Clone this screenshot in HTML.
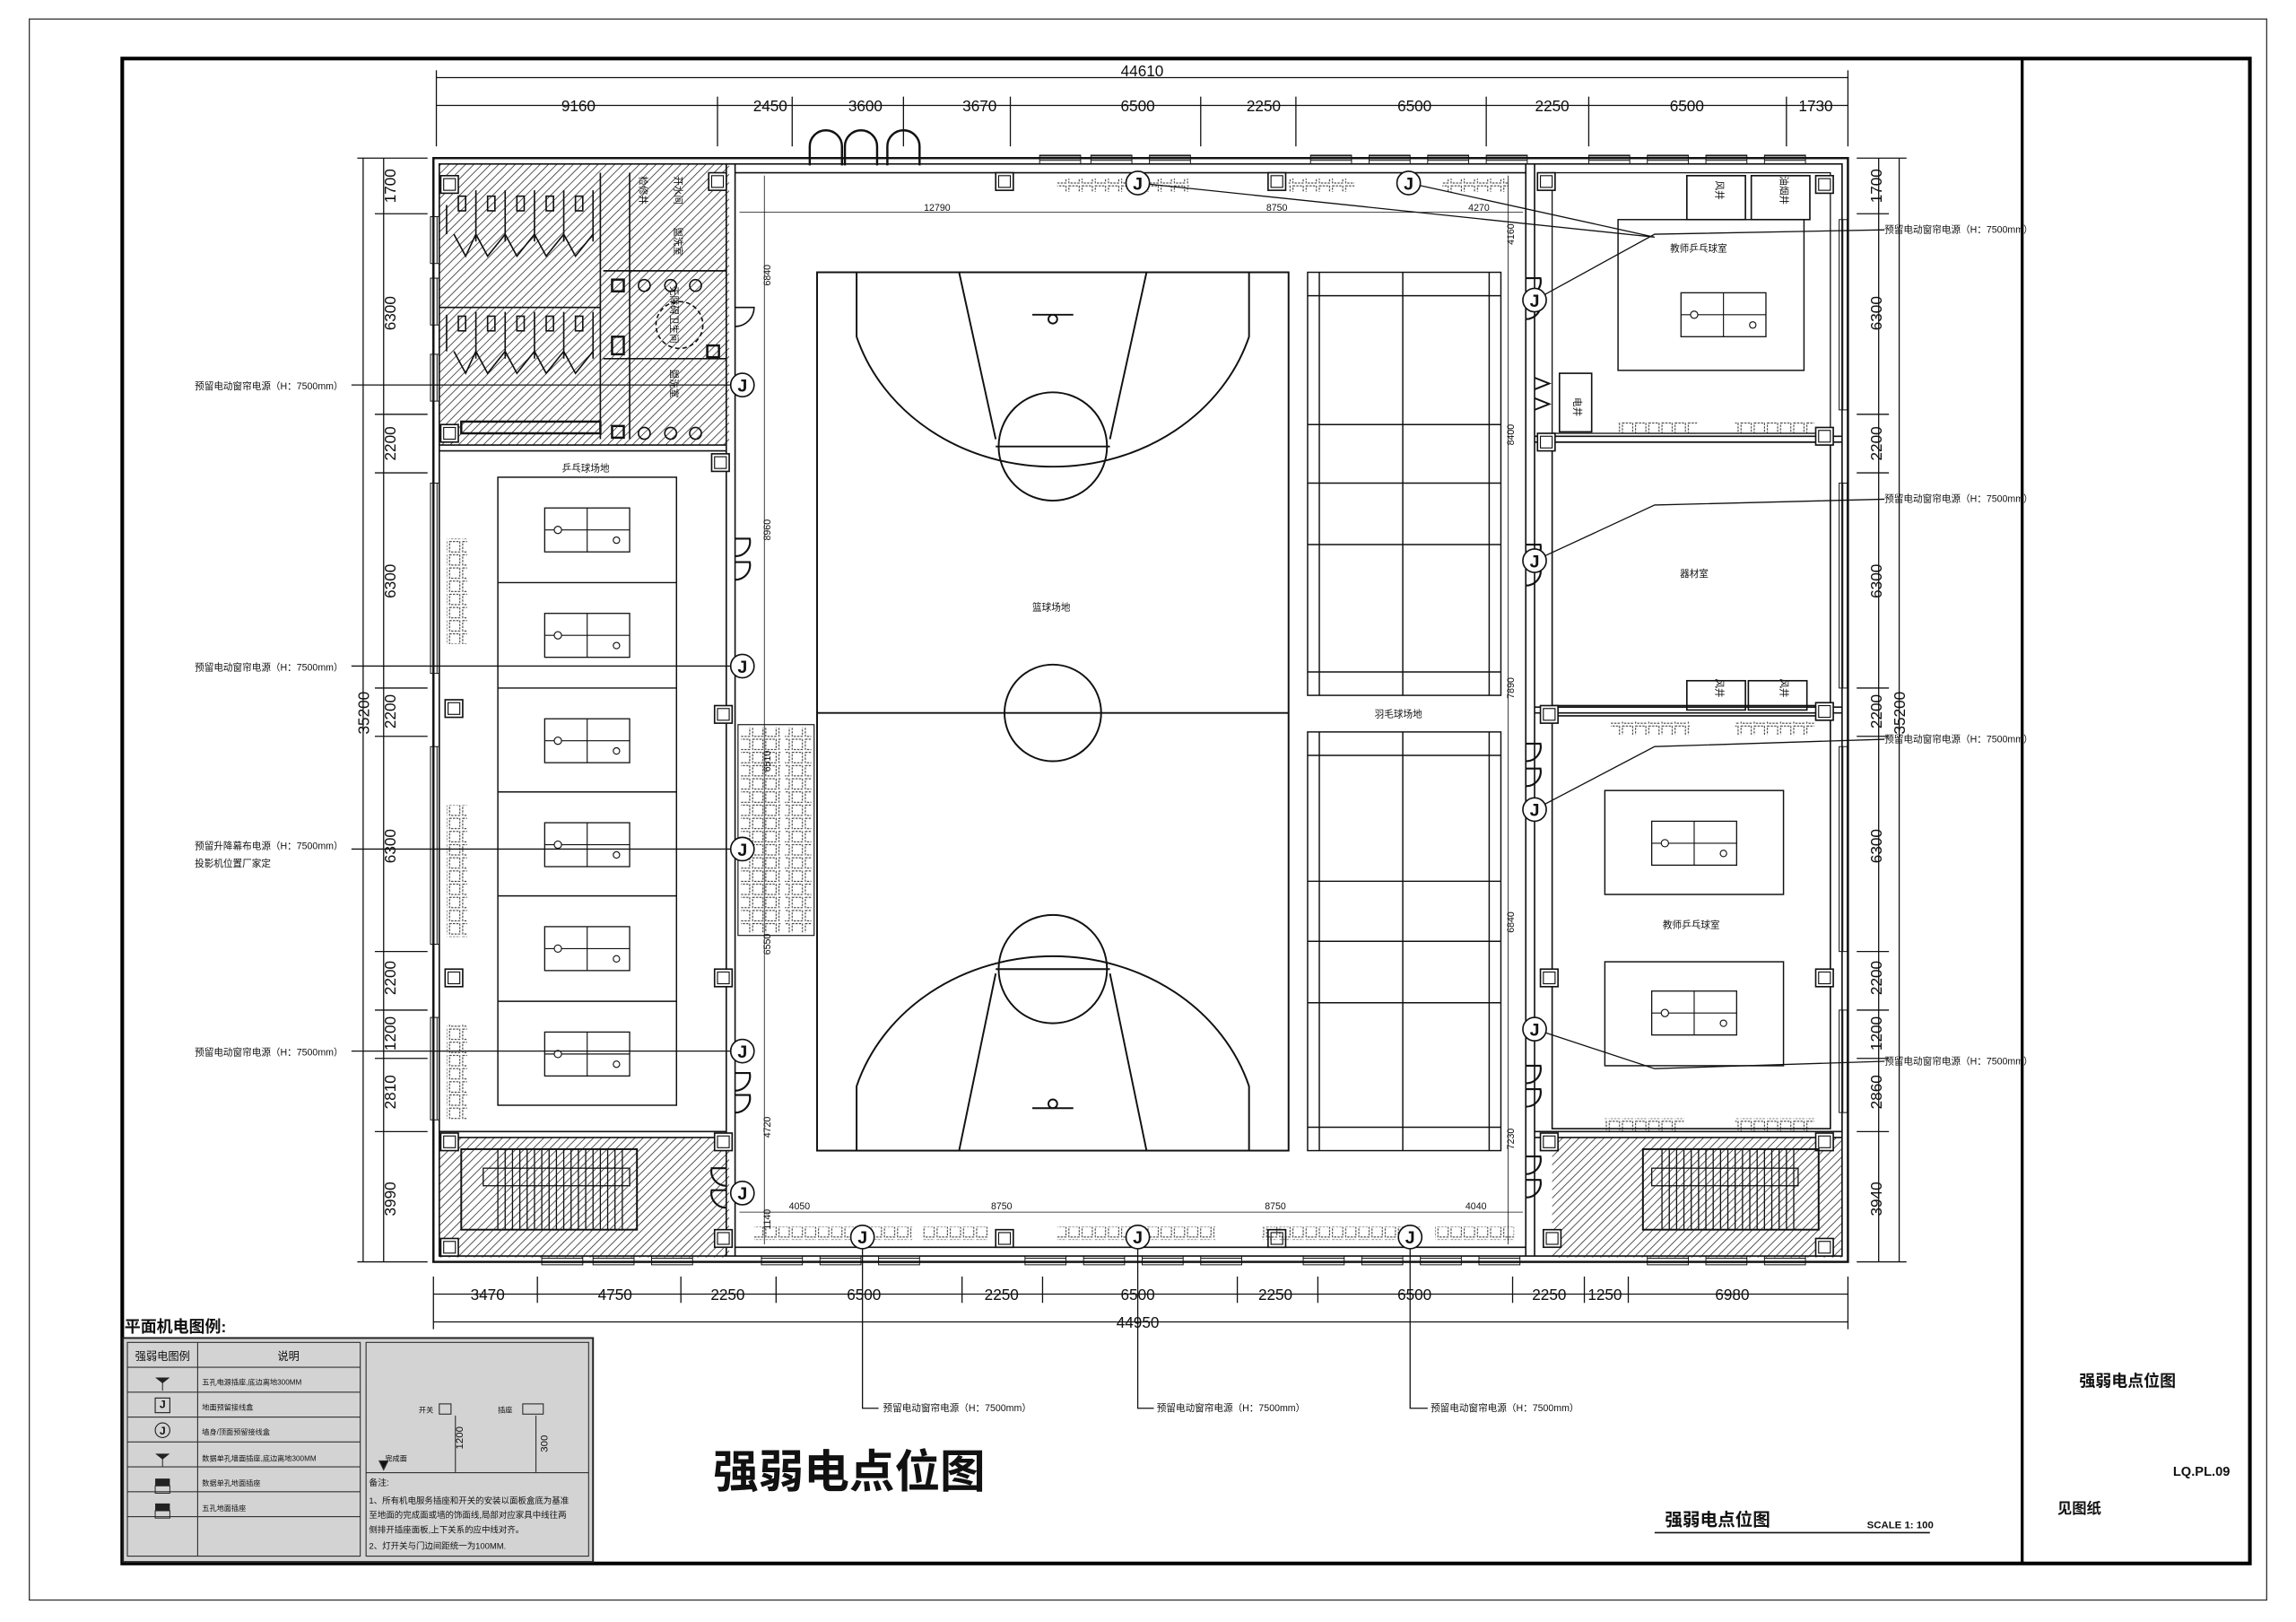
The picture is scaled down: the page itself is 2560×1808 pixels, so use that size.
<!DOCTYPE html>
<html><head><meta charset="utf-8"><style>
html,body{margin:0;padding:0;background:#fff}
svg{display:block}
text{font-family:"Liberation Sans","Noto Sans CJK SC",sans-serif;fill:#111}
</style></head><body>
<svg width="2560" height="1808" viewBox="0 0 1568 1108" preserveAspectRatio="none" xmlns="http://www.w3.org/2000/svg">
<defs>
<pattern id="h" width="4" height="4" patternUnits="userSpaceOnUse" patternTransform="rotate(45)"><line x1="0" y1="0" x2="0" y2="4" stroke="#333" stroke-width="1"/></pattern>
<pattern id="ch" width="9" height="9" patternUnits="userSpaceOnUse"><rect x="1" y="1" width="7" height="7" fill="none" stroke="#222" stroke-width="0.6" stroke-dasharray="1.5,0.8"/></pattern>
<pattern id="win" width="3" height="3" patternUnits="userSpaceOnUse"><line x1="0" y1="1.5" x2="3" y2="1.5" stroke="#222" stroke-width="0.7"/></pattern>
<pattern id="winv" width="3" height="3" patternUnits="userSpaceOnUse"><line x1="1.5" y1="0" x2="1.5" y2="3" stroke="#222" stroke-width="0.7"/></pattern>
<g id="tt"><rect x="-29" y="-15" width="58" height="30" fill="none" stroke="#111" stroke-width="0.8"/><line x1="0" y1="-15" x2="0" y2="15" stroke="#111" stroke-width="0.7"/><line x1="-29" y1="0" x2="29" y2="0" stroke="#111" stroke-width="0.7"/><circle cx="-20" cy="0" r="2.5" fill="#fff" stroke="#111" stroke-width="0.7"/><circle cx="20" cy="7" r="2.2" fill="none" stroke="#111" stroke-width="0.7"/></g>
<g id="J"><circle r="8" fill="#fff" stroke="#111" stroke-width="1"/><text x="0" y="4.5" font-size="12" text-anchor="middle" font-weight="bold">J</text></g>
<g id="col"><rect x="-6" y="-6" width="12" height="12" fill="#fff" stroke="#111" stroke-width="1"/><rect x="-4" y="-4" width="8" height="8" fill="none" stroke="#111" stroke-width="0.7"/></g>
</defs>
<rect width="1568" height="1108" fill="#fff"/>
<rect x="20" y="13" width="1528" height="1080" fill="none" stroke="#333" stroke-width="0.8"/>
<rect x="83.5" y="40" width="1453" height="1028" fill="none" stroke="#000" stroke-width="2.5"/>
<line x1="1381" y1="40" x2="1381" y2="1068" stroke="#000" stroke-width="2"/>

<g stroke="#111" stroke-width="0.8" fill="none">
<line x1="298" y1="53" x2="1262" y2="53"/>
<line x1="298" y1="72" x2="1262" y2="72"/>
<line x1="298" y1="48" x2="298" y2="100"/><line x1="490" y1="66" x2="490" y2="100"/><line x1="541" y1="66" x2="541" y2="100"/><line x1="617" y1="66" x2="617" y2="100"/><line x1="690" y1="66" x2="690" y2="100"/><line x1="820" y1="66" x2="820" y2="100"/><line x1="885" y1="66" x2="885" y2="100"/><line x1="1015" y1="66" x2="1015" y2="100"/><line x1="1085" y1="66" x2="1085" y2="100"/><line x1="1220" y1="66" x2="1220" y2="100"/><line x1="1262" y1="48" x2="1262" y2="100"/>
<line x1="296" y1="884" x2="1262" y2="884"/>
<line x1="296" y1="903" x2="1262" y2="903"/>
<line x1="296" y1="872" x2="296" y2="908"/><line x1="367" y1="872" x2="367" y2="890"/><line x1="465" y1="872" x2="465" y2="890"/><line x1="530" y1="872" x2="530" y2="890"/><line x1="657" y1="872" x2="657" y2="890"/><line x1="712" y1="872" x2="712" y2="890"/><line x1="845" y1="872" x2="845" y2="890"/><line x1="900" y1="872" x2="900" y2="890"/><line x1="1033" y1="872" x2="1033" y2="890"/><line x1="1082" y1="872" x2="1082" y2="890"/><line x1="1112" y1="872" x2="1112" y2="890"/><line x1="1262" y1="872" x2="1262" y2="908"/>
<line x1="262" y1="108" x2="262" y2="862"/><line x1="248" y1="108" x2="248" y2="862"/>
<line x1="244" y1="108" x2="292" y2="108"/><line x1="256" y1="146" x2="292" y2="146"/><line x1="256" y1="283" x2="292" y2="283"/><line x1="256" y1="323" x2="292" y2="323"/><line x1="256" y1="470" x2="292" y2="470"/><line x1="256" y1="503" x2="292" y2="503"/><line x1="256" y1="650" x2="292" y2="650"/><line x1="256" y1="690" x2="292" y2="690"/><line x1="256" y1="723" x2="292" y2="723"/><line x1="256" y1="773" x2="292" y2="773"/><line x1="244" y1="862" x2="292" y2="862"/>
<line x1="1283" y1="108" x2="1283" y2="862"/><line x1="1297" y1="108" x2="1297" y2="862"/>
<line x1="1268" y1="108" x2="1302" y2="108"/><line x1="1268" y1="146" x2="1290" y2="146"/><line x1="1268" y1="283" x2="1290" y2="283"/><line x1="1268" y1="323" x2="1290" y2="323"/><line x1="1268" y1="470" x2="1290" y2="470"/><line x1="1268" y1="503" x2="1290" y2="503"/><line x1="1268" y1="650" x2="1290" y2="650"/><line x1="1268" y1="690" x2="1290" y2="690"/><line x1="1268" y1="723" x2="1290" y2="723"/><line x1="1268" y1="773" x2="1290" y2="773"/><line x1="1268" y1="862" x2="1302" y2="862"/>
</g>
<g font-size="10.5" text-anchor="middle" style="font-family:'Liberation Sans Narrow','Liberation Sans',sans-serif">
<text x="780" y="52">44610</text>
<text x="395" y="76">9160</text><text x="526" y="76">2450</text><text x="591" y="76">3600</text><text x="669" y="76">3670</text><text x="777" y="76">6500</text><text x="863" y="76">2250</text><text x="966" y="76">6500</text><text x="1060" y="76">2250</text><text x="1152" y="76">6500</text><text x="1240" y="76">1730</text>
<text x="333" y="888">3470</text><text x="420" y="888">4750</text><text x="497" y="888">2250</text><text x="590" y="888">6500</text><text x="684" y="888">2250</text><text x="777" y="888">6500</text><text x="871" y="888">2250</text><text x="966" y="888">6500</text><text x="1058" y="888">2250</text><text x="1096" y="888">1250</text><text x="1183" y="888">6980</text>
<text x="777" y="907">44950</text>
<text transform="translate(270,127) rotate(-90)">1700</text><text transform="translate(270,214) rotate(-90)">6300</text><text transform="translate(270,303) rotate(-90)">2200</text><text transform="translate(270,397) rotate(-90)">6300</text><text transform="translate(270,486) rotate(-90)">2200</text><text transform="translate(270,578) rotate(-90)">6300</text><text transform="translate(270,668) rotate(-90)">2200</text><text transform="translate(270,706) rotate(-90)">1200</text><text transform="translate(270,746) rotate(-90)">2810</text><text transform="translate(270,819) rotate(-90)">3990</text><text transform="translate(252,487) rotate(-90)">35200</text>
<text transform="translate(1285,127) rotate(-90)">1700</text><text transform="translate(1285,214) rotate(-90)">6300</text><text transform="translate(1285,303) rotate(-90)">2200</text><text transform="translate(1285,397) rotate(-90)">6300</text><text transform="translate(1285,486) rotate(-90)">2200</text><text transform="translate(1285,578) rotate(-90)">6300</text><text transform="translate(1285,668) rotate(-90)">2200</text><text transform="translate(1285,706) rotate(-90)">1200</text><text transform="translate(1285,746) rotate(-90)">2860</text><text transform="translate(1285,819) rotate(-90)">3940</text><text transform="translate(1301,487) rotate(-90)">35200</text>
</g>

<rect x="300" y="112" width="198" height="192" fill="url(#h)"/>
<rect x="300" y="777" width="198" height="82" fill="url(#h)"/>
<rect x="1060" y="777" width="198" height="82" fill="url(#h)"/>
<g fill="none" stroke="#111">
<rect x="296" y="108" width="966" height="754" stroke-width="1.5"/>
<rect x="300" y="112" width="958" height="746" stroke-width="1"/>
<line x1="496" y1="112" x2="496" y2="858" stroke-width="1"/><line x1="502" y1="112" x2="502" y2="858" stroke-width="1"/>
<line x1="1042" y1="112" x2="1042" y2="858" stroke-width="1"/><line x1="1048" y1="112" x2="1048" y2="858" stroke-width="1"/>
<line x1="300" y1="304" x2="496" y2="304"/><line x1="300" y1="308" x2="496" y2="308"/>
<line x1="300" y1="773" x2="496" y2="773"/><line x1="300" y1="777" x2="496" y2="777"/>
<line x1="1048" y1="773" x2="1258" y2="773"/><line x1="1048" y1="777" x2="1258" y2="777"/>
<line x1="1048" y1="298" x2="1258" y2="298"/><line x1="1048" y1="302" x2="1258" y2="302"/>
<line x1="1048" y1="483" x2="1258" y2="483"/><line x1="1048" y1="487" x2="1258" y2="487"/>
<line x1="502" y1="118" x2="1042" y2="118"/>
<line x1="502" y1="852" x2="1042" y2="852"/>
<line x1="300" y1="210" x2="410" y2="210"/><line x1="410" y1="118" x2="410" y2="300"/>
<line x1="430" y1="118" x2="430" y2="300"/><line x1="412" y1="245" x2="496" y2="245"/>
<line x1="412" y1="185" x2="496" y2="185"/>
<rect x="1060" y="118" width="190" height="178" stroke-width="0.8"/>
<rect x="1060" y="302" width="190" height="180"/>
<rect x="1060" y="489" width="190" height="282"/>
<rect x="1152" y="120" width="40" height="30"/><rect x="1196" y="120" width="40" height="30"/>
<rect x="1152" y="465" width="40" height="20"/><rect x="1194" y="465" width="40" height="20"/>
<rect x="1065" y="255" width="22" height="40"/>
</g>
<g stroke="#111" stroke-width="0.6">
<rect x="294" y="148" width="6" height="32" fill="url(#winv)"/><rect x="294" y="190" width="6" height="32" fill="url(#winv)"/><rect x="294" y="242" width="6" height="32" fill="url(#winv)"/><rect x="294" y="330" width="6" height="130" fill="url(#winv)"/><rect x="294" y="510" width="6" height="135" fill="url(#winv)"/><rect x="294" y="695" width="6" height="70" fill="url(#winv)"/>
<rect x="1256" y="150" width="6" height="130" fill="url(#winv)"/><rect x="1256" y="330" width="6" height="140" fill="url(#winv)"/><rect x="1256" y="510" width="6" height="140" fill="url(#winv)"/><rect x="1256" y="690" width="6" height="70" fill="url(#winv)"/>
<rect x="710" y="106" width="28" height="6" fill="url(#win)"/><rect x="745" y="106" width="28" height="6" fill="url(#win)"/><rect x="785" y="106" width="28" height="6" fill="url(#win)"/><rect x="895" y="106" width="28" height="6" fill="url(#win)"/><rect x="935" y="106" width="28" height="6" fill="url(#win)"/><rect x="975" y="106" width="28" height="6" fill="url(#win)"/><rect x="1015" y="106" width="28" height="6" fill="url(#win)"/><rect x="1085" y="106" width="28" height="6" fill="url(#win)"/><rect x="1125" y="106" width="28" height="6" fill="url(#win)"/><rect x="1165" y="106" width="28" height="6" fill="url(#win)"/><rect x="1205" y="106" width="28" height="6" fill="url(#win)"/>
<rect x="370" y="858" width="28" height="6" fill="url(#win)"/><rect x="405" y="858" width="28" height="6" fill="url(#win)"/><rect x="445" y="858" width="28" height="6" fill="url(#win)"/><rect x="520" y="858" width="28" height="6" fill="url(#win)"/><rect x="560" y="858" width="28" height="6" fill="url(#win)"/><rect x="600" y="858" width="28" height="6" fill="url(#win)"/><rect x="700" y="858" width="28" height="6" fill="url(#win)"/><rect x="740" y="858" width="28" height="6" fill="url(#win)"/><rect x="780" y="858" width="28" height="6" fill="url(#win)"/><rect x="820" y="858" width="28" height="6" fill="url(#win)"/><rect x="890" y="858" width="28" height="6" fill="url(#win)"/><rect x="930" y="858" width="28" height="6" fill="url(#win)"/><rect x="970" y="858" width="28" height="6" fill="url(#win)"/><rect x="1010" y="858" width="28" height="6" fill="url(#win)"/><rect x="1125" y="858" width="28" height="6" fill="url(#win)"/><rect x="1165" y="858" width="28" height="6" fill="url(#win)"/><rect x="1205" y="858" width="28" height="6" fill="url(#win)"/>
</g>
<path d="M553,113 L553,100 A11,11 0 0 1 575,100 L575,113 M577,113 L577,100 A11,11 0 0 1 599,100 L599,113 M606,113 L606,100 A11,11 0 0 1 628,100 L628,113" fill="none" stroke="#111" stroke-width="1.5"/>
<g>
<use href="#col" x="307" y="126"/><use href="#col" x="490" y="124"/><use href="#col" x="307" y="296"/><use href="#col" x="492" y="316"/><use href="#col" x="310" y="484"/><use href="#col" x="494" y="488"/><use href="#col" x="310" y="668"/><use href="#col" x="494" y="668"/><use href="#col" x="307" y="780"/><use href="#col" x="494" y="780"/><use href="#col" x="307" y="852"/><use href="#col" x="494" y="846"/><use href="#col" x="686" y="124"/><use href="#col" x="686" y="846"/><use href="#col" x="872" y="124"/><use href="#col" x="872" y="846"/><use href="#col" x="1056" y="124"/><use href="#col" x="1056" y="302"/><use href="#col" x="1058" y="488"/><use href="#col" x="1058" y="668"/><use href="#col" x="1058" y="780"/><use href="#col" x="1060" y="846"/><use href="#col" x="1246" y="126"/><use href="#col" x="1246" y="298"/><use href="#col" x="1246" y="486"/><use href="#col" x="1246" y="668"/><use href="#col" x="1246" y="780"/><use href="#col" x="1246" y="852"/>
</g>
<g stroke="none">
<rect x="722" y="122" width="90" height="9" fill="url(#ch)"/><rect x="880" y="122" width="45" height="9" fill="url(#ch)"/><rect x="985" y="122" width="45" height="9" fill="url(#ch)"/>
<rect x="515" y="838" width="108" height="9" fill="url(#ch)"/><rect x="630" y="838" width="45" height="9" fill="url(#ch)"/><rect x="722" y="838" width="108" height="9" fill="url(#ch)"/><rect x="862" y="838" width="108" height="9" fill="url(#ch)"/><rect x="980" y="838" width="54" height="9" fill="url(#ch)"/>
<rect x="1105" y="288" width="54" height="9" fill="url(#ch)"/><rect x="1185" y="288" width="54" height="9" fill="url(#ch)"/>
<rect x="1100" y="493" width="54" height="9" fill="url(#ch)"/><rect x="1185" y="493" width="54" height="9" fill="url(#ch)"/>
<rect x="1096" y="764" width="54" height="9" fill="url(#ch)"/><rect x="1185" y="764" width="54" height="9" fill="url(#ch)"/>
<rect x="305" y="368" width="14" height="72" fill="url(#ch)"/><rect x="305" y="550" width="14" height="90" fill="url(#ch)"/><rect x="305" y="700" width="14" height="65" fill="url(#ch)"/>
<rect x="506" y="497" width="27" height="140" fill="url(#ch)"/><rect x="536" y="497" width="18" height="140" fill="url(#ch)"/>
</g>
<rect x="504" y="495" width="52" height="144" fill="none" stroke="#111" stroke-width="0.7"/>
<g fill="none" stroke="#111" stroke-width="1">
<path d="M305,140 L305,160 M325,130 L325,165 M345,130 L345,165 M365,130 L365,165 M385,130 L385,165 M405,130 L405,165 M310,160 L318,175 L325,160 L333,175 L345,160 L353,175 L365,160 L373,175 L385,160 L393,175 L405,160"/>
<path d="M305,215 L305,240 M325,213 L325,245 M345,213 L345,245 M365,213 L365,245 M385,213 L385,245 M405,213 L405,245 M310,240 L318,255 L325,240 L333,255 L345,240 L353,255 L365,240 L373,255 L385,240 L393,255 L405,240"/>
<rect x="313" y="134" width="5" height="10"/><rect x="333" y="134" width="5" height="10"/><rect x="353" y="134" width="5" height="10"/><rect x="373" y="134" width="5" height="10"/><rect x="393" y="134" width="5" height="10"/>
<rect x="313" y="216" width="5" height="10"/><rect x="333" y="216" width="5" height="10"/><rect x="353" y="216" width="5" height="10"/><rect x="373" y="216" width="5" height="10"/><rect x="393" y="216" width="5" height="10"/>
<rect x="315" y="288" width="95" height="8" stroke-width="1.5"/>
<circle cx="440" cy="195" r="4"/><circle cx="458" cy="195" r="4"/><circle cx="475" cy="195" r="4"/>
<circle cx="440" cy="296" r="4"/><circle cx="458" cy="296" r="4"/><circle cx="475" cy="296" r="4"/>
<rect x="418" y="191" width="8" height="8" stroke-width="1.5"/><rect x="418" y="291" width="8" height="8" stroke-width="1.5"/><rect x="483" y="236" width="8" height="8" stroke-width="1.5"/><rect x="418" y="230" width="8" height="12" stroke-width="1.5"/>
<circle cx="464" cy="222" r="16" stroke-dasharray="3,2"/>
<path d="M502,210 L515,210 A13,13 0 0 1 502,223"/>
<path d="M502,368 L512,368 A10,10 0 0 1 502,380 M502,384 L512,384 A10,10 0 0 1 502,396" stroke-width="1.3"/>
<path d="M502,733 L512,733 A10,10 0 0 1 502,745 M502,748 L512,748 A10,10 0 0 1 502,760" stroke-width="1.3"/>
<path d="M496,798 L486,798 A10,10 0 0 0 496,810 M496,813 L486,813 A10,10 0 0 0 496,825" stroke-width="1.3"/>
<path d="M1042,190 L1052,190 A10,10 0 0 1 1042,202 M1042,206 L1052,206 A10,10 0 0 1 1042,218" stroke-width="1.3"/>
<path d="M1042,372 L1052,372 A10,10 0 0 1 1042,384 M1042,388 L1052,388 A10,10 0 0 1 1042,400" stroke-width="1.3"/>
<path d="M1042,508 L1052,508 A10,10 0 0 1 1042,520 M1042,525 L1052,525 A10,10 0 0 1 1042,537" stroke-width="1.3"/>
<path d="M1042,728 L1052,728 A10,10 0 0 1 1042,740 M1042,744 L1052,744 A10,10 0 0 1 1042,756" stroke-width="1.3"/>
<path d="M1042,790 L1052,790 A10,10 0 0 1 1042,802 M1042,806 L1052,806 A10,10 0 0 1 1042,818" stroke-width="1.3"/>
<path d="M1048,258 L1058,262 L1048,266 M1048,272 L1058,276 L1048,280" stroke-width="1.2"/>
</g>
<g fill="none" stroke="#111" stroke-width="0.8">
<rect x="315" y="785" width="120" height="55" stroke-width="1.2"/>
<rect x="330" y="798" width="100" height="12"/>
<path d="M340,785 v55 M345,785 v55 M350,785 v55 M355,785 v55 M360,785 v55 M365,785 v55 M370,785 v55 M375,785 v55 M380,785 v55 M385,785 v55 M390,785 v55 M395,785 v55 M400,785 v55 M405,785 v55 M410,785 v55 M415,785 v55 M420,785 v55 M425,785 v55"/>
<rect x="1122" y="785" width="120" height="55" stroke-width="1.2"/>
<rect x="1128" y="798" width="100" height="12"/>
<path d="M1135,785 v55 M1140,785 v55 M1145,785 v55 M1150,785 v55 M1155,785 v55 M1160,785 v55 M1165,785 v55 M1170,785 v55 M1175,785 v55 M1180,785 v55 M1185,785 v55 M1190,785 v55 M1195,785 v55 M1200,785 v55 M1205,785 v55 M1210,785 v55 M1215,785 v55 M1220,785 v55 M1225,785 v55"/>
</g>
<g fill="none" stroke="#111" stroke-width="1.2">
<rect x="558" y="186" width="322" height="600"/>
<line x1="558" y1="487" x2="880" y2="487"/>
<circle cx="719" cy="487" r="33"/>
<path d="M585,186 L585,230 A140,125 0 0 0 853,230 L853,186"/>
<path d="M655,186 L680,300 M783,186 L758,300"/>
<circle cx="719" cy="305" r="37"/>
<line x1="680" y1="305" x2="758" y2="305"/>
<path d="M585,786 L585,742 A140,125 0 0 1 853,742 L853,786"/>
<path d="M655,786 L680,665 M783,786 L758,665"/>
<circle cx="719" cy="662" r="37"/>
<line x1="680" y1="662" x2="758" y2="662"/>
<line x1="705" y1="215" x2="733" y2="215"/><circle cx="719" cy="218" r="3"/>
<line x1="705" y1="757" x2="733" y2="757"/><circle cx="719" cy="754" r="3"/>
</g>
<g fill="none" stroke="#111" stroke-width="0.9">
<rect x="893" y="186" width="132" height="289"/>
<rect x="893" y="500" width="132" height="286"/>
<path d="M893,202 h132 M893,459 h132 M958,186 v289 M893,290 h132 M893,330 h132 M893,372 h132 M901,186 v289 M1017,186 v289"/>
<path d="M893,516 h132 M893,770 h132 M958,500 v286 M893,602 h132 M893,643 h132 M893,685 h132 M901,500 v286 M1017,500 v286"/>
</g>
<g fill="none" stroke="#111" stroke-width="0.9">
<rect x="340" y="326" width="122" height="429"/>
<path d="M340,398 h122 M340,470 h122 M340,541 h122 M340,612 h122 M340,684 h122"/>
<rect x="1105" y="150" width="127" height="103"/>
<rect x="1096" y="540" width="122" height="71"/>
<rect x="1096" y="657" width="122" height="71"/>
</g>
<use href="#tt" x="401" y="362"/><use href="#tt" x="401" y="434"/><use href="#tt" x="401" y="506"/><use href="#tt" x="401" y="577"/><use href="#tt" x="401" y="648"/><use href="#tt" x="401" y="720"/>
<use href="#tt" x="1177" y="215"/><use href="#tt" x="1157" y="576"/><use href="#tt" x="1157" y="692"/>

<g fill="none" stroke="#111" stroke-width="0.8">
<line x1="240" y1="263" x2="507" y2="263"/><line x1="240" y1="455" x2="507" y2="455"/><line x1="240" y1="580" x2="507" y2="580"/><line x1="240" y1="718" x2="507" y2="718"/>
<path d="M777,125 L1130,162 M962,125 L1130,162 M1048,205 L1130,160 L1287,157"/>
<path d="M1048,383 L1130,345 L1287,341"/>
<path d="M1048,553 L1130,510 L1287,505"/>
<path d="M1048,703 L1130,730 L1287,725"/>
<path d="M589,845 V962 H600 M777,845 V962 H788 M963,845 V962 H975"/>
<line x1="505" y1="145" x2="1040" y2="145" stroke-width="0.5"/>
<line x1="522" y1="120" x2="522" y2="850" stroke-width="0.5"/>
<line x1="1030" y1="120" x2="1030" y2="850" stroke-width="0.5"/>
<line x1="505" y1="828" x2="1040" y2="828" stroke-width="0.5"/>
</g>
<use href="#J" x="777" y="125"/><use href="#J" x="962" y="125"/>
<use href="#J" x="507" y="263"/><use href="#J" x="507" y="455"/><use href="#J" x="507" y="580"/><use href="#J" x="507" y="718"/><use href="#J" x="507" y="815"/>
<use href="#J" x="1048" y="205"/><use href="#J" x="1048" y="383"/><use href="#J" x="1048" y="553"/><use href="#J" x="1048" y="703"/>
<use href="#J" x="589" y="845"/><use href="#J" x="777" y="845"/><use href="#J" x="963" y="845"/>

<g font-size="6.5" text-anchor="middle">
<text x="640" y="144">12790</text><text x="872" y="144">8750</text><text x="1010" y="144">4270</text>
<text x="546" y="826">4050</text><text x="684" y="826">8750</text><text x="871" y="826">8750</text><text x="1008" y="826">4040</text>
<text transform="translate(526,188) rotate(-90)">6840</text><text transform="translate(526,362) rotate(-90)">8960</text><text transform="translate(526,520) rotate(-90)">6510</text><text transform="translate(526,645) rotate(-90)">6550</text><text transform="translate(526,770) rotate(-90)">4720</text><text transform="translate(526,833) rotate(-90)">1140</text>
<text transform="translate(1034,160) rotate(-90)">4160</text><text transform="translate(1034,297) rotate(-90)">8400</text><text transform="translate(1034,470) rotate(-90)">7890</text><text transform="translate(1034,630) rotate(-90)">6840</text><text transform="translate(1034,778) rotate(-90)">7230</text>
</g>
<g font-size="6.5" text-anchor="middle">
<text x="400" y="322">乒乓球场地</text><text x="718" y="417">篮球场地</text><text x="955" y="490">羽毛球场地</text>
<text x="1160" y="172">教师乒乓球室</text><text x="1157" y="394">器材室</text><text x="1155" y="634">教师乒乓球室</text>
<text transform="translate(1075,278) rotate(90)">电井</text>
<text transform="translate(1172,130) rotate(90)">风井</text><text transform="translate(1216,130) rotate(90)">油烟井</text>
<text transform="translate(1172,470) rotate(90)">风井</text><text transform="translate(1216,470) rotate(90)">风井</text>
<text transform="translate(437,130) rotate(90)">检修井</text><text transform="translate(461,130) rotate(90)">开水间</text><text transform="translate(461,165) rotate(90)">盥洗室</text><text transform="translate(458,215) rotate(90)">无障碍卫生间</text><text transform="translate(458,262) rotate(90)">盥洗室</text>
</g>
<g font-size="6.5">
<text x="133" y="266">预留电动窗帘电源（H：7500mm）</text>
<text x="133" y="458">预留电动窗帘电源（H：7500mm）</text>
<text x="133" y="580">预留升降幕布电源（H：7500mm）</text>
<text x="133" y="592">投影机位置厂家定</text>
<text x="133" y="721">预留电动窗帘电源（H：7500mm）</text>
<text x="1287" y="159">预留电动窗帘电源（H：7500mm）</text>
<text x="1287" y="343">预留电动窗帘电源（H：7500mm）</text>
<text x="1287" y="507">预留电动窗帘电源（H：7500mm）</text>
<text x="1287" y="727">预留电动窗帘电源（H：7500mm）</text>
<text x="603" y="964">预留电动窗帘电源（H：7500mm）</text>
<text x="790" y="964">预留电动窗帘电源（H：7500mm）</text>
<text x="977" y="964">预留电动窗帘电源（H：7500mm）</text>
</g>

<text x="487" y="1016" font-size="31" font-weight="bold">强弱电点位图</text>
<text x="1420" y="947" font-size="11" font-weight="bold">强弱电点位图</text>
<text x="1484" y="1008" font-size="9" font-weight="bold">LQ.PL.09</text>
<text x="1405" y="1034" font-size="10" font-weight="bold">见图纸</text>
<text x="1137" y="1042" font-size="12" font-weight="bold">强弱电点位图</text>
<line x1="1130" y1="1047" x2="1318" y2="1047" stroke="#111" stroke-width="1"/>
<text x="1275" y="1044" font-size="7" font-weight="bold">SCALE 1: 100</text>

<text x="85" y="910" font-size="11" font-weight="bold">平面机电图例:</text>
<rect x="84" y="914" width="321" height="153" fill="#d3d3d3" stroke="#222" stroke-width="1.2"/>
<g fill="none" stroke="#333" stroke-width="0.7">
<rect x="87" y="917" width="159" height="146"/>
<line x1="135" y1="917" x2="135" y2="1063"/>
<path d="M87,934 h159 M87,951 h159 M87,968 h159 M87,985 h159 M87,1002 h159 M87,1019 h159 M87,1036 h159"/>
<rect x="250" y="917" width="152" height="146"/>
<line x1="250" y1="1006" x2="402" y2="1006"/>
<rect x="300" y="959" width="8" height="7"/><rect x="357" y="959" width="14" height="7"/>
<path d="M311,967 V1006 M366,967 V1006"/>
<path d="M259,998 L265,998 L262,1004 Z" fill="#111"/>
</g>
<g font-size="7.5" text-anchor="middle">
<text x="111" y="929">强弱电图例</text><text x="197" y="929">说明</text>
<text x="111" y="962" font-weight="bold">J</text><text x="111" y="980" font-weight="bold">J</text>
</g>
<circle cx="111" cy="977" r="5" fill="none" stroke="#222" stroke-width="0.7"/>
<rect x="106" y="955" width="10" height="10" fill="none" stroke="#222" stroke-width="0.7"/>
<g font-size="5">
<text x="138" y="946">五孔电源插座,底边离地300MM</text>
<text x="138" y="963">地面预留接线盒</text>
<text x="138" y="980">墙身/顶面预留接线盒</text>
<text x="138" y="998">数据单孔墙面插座,底边离地300MM</text>
<text x="138" y="1015">数据单孔地面插座</text>
<text x="138" y="1032">五孔地面插座</text>
<text x="286" y="965">开关</text><text x="340" y="965">插座</text><text x="263" y="998">完成面</text>
<text transform="translate(316,990) rotate(-90)" font-size="7">1200</text>
<text transform="translate(374,992) rotate(-90)" font-size="7">300</text>
<text x="252" y="1015" font-size="6">备注:</text>
<text x="252" y="1027" font-size="5.8">1、所有机电服务插座和开关的安装以面板盒底为基准</text>
<text x="252" y="1037" font-size="5.8">至地面的完成面或墙的饰面线,局部对应家具中线往两</text>
<text x="252" y="1047" font-size="5.8">侧排开插座面板,上下关系的应中线对齐。</text>
<text x="252" y="1058" font-size="5.8">2、灯开关与门边间距统一为100MM.</text>
</g>
<g fill="#222"><path d="M106,941 h10 l-5,4 z"/><path d="M106,993 h10 l-5,4 z"/><path d="M106,1010 h10 v5 h-10 z"/><path d="M106,1027 h10 v5 h-10 z"/></g>
<g stroke="#222" stroke-width="0.6"><line x1="111" y1="944" x2="111" y2="950"/><line x1="111" y1="996" x2="111" y2="1002"/><rect x="106" y="1015" width="10" height="5" fill="none"/><rect x="106" y="1032" width="10" height="5" fill="none"/></g>
</svg>
</body></html>
